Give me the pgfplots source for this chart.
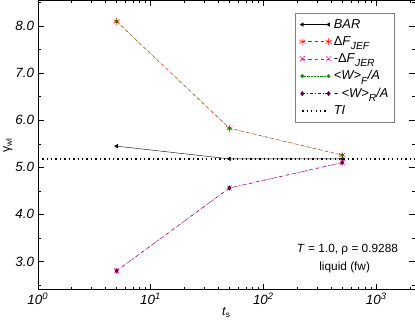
\documentclass[border=0pt]{standalone}
\usepackage{fontspec}
\setmainfont{Liberation Sans}
\usepackage{pgfplots}
\pgfplotsset{compat=1.18}
\definecolor{mygreen}{rgb}{0,0.55,0}
\definecolor{mypurple}{rgb}{0.4,0,0.3}
\newcommand{\lsub}[1]{\raisebox{-4pt}{\fontsize{10}{10}\selectfont\textit{#1}}}
\begin{document}
\begin{tikzpicture}
\begin{axis}[
  scale only axis, width=366pt, height=281pt,
  xmode=log, log basis x=10,
  xmin=1, xmax=2200, ymin=2.4, ymax=8.55,
  xtick={1,10,100,1000},
  xticklabels={\textit{10}\textsuperscript{\textit{0}},\textit{10}\textsuperscript{\textit{1}},\textit{10}\textsuperscript{\textit{2}},\textit{10}\textsuperscript{\textit{3}}},
  minor xtick={2,3,4,5,6,7,8,9,20,30,40,50,60,70,80,90,200,300,400,500,600,700,800,900,2000},
  ytick={3,4,5,6,7,8},
  yticklabels={\textit{3.0},\textit{4.0},\textit{5.0},\textit{6.0},\textit{7.0},\textit{8.0}},
  minor ytick={2.5,3.5,4.5,5.5,6.5,7.5,8.5},
  tick align=inside,
  major tick length=6pt, minor tick length=3pt,
  tick style={black, thin},
  axis line style={black, thin},
  ticklabel style={font=\fontsize{13}{13}\selectfont},
  xlabel={\textit{t}\textsubscript{s}},
  ylabel={γ\textsubscript{wl}},
  label style={font=\fontsize{12}{12}\selectfont},
  xlabel style={yshift=4pt},
  ylabel style={yshift=-4pt},
  legend image code/.code={\draw[mark repeat=2,mark phase=1,#1] plot coordinates {(0cm,0cm) (0.45cm,0cm) (0.9cm,0cm)};},
  legend style={at={(rel axis cs:0.948,0.957)}, anchor=north east,
    draw=gray, line width=1pt, font=\fontsize{12.5}{14}\selectfont,
    cells={anchor=west}, row sep=2.5pt, inner xsep=4pt, inner ysep=4pt},
  legend cell align=left,
]
\addplot[black, thin, mark=triangle*, mark size=2pt, mark options={rotate=90, solid}]
  coordinates {(500,5.18) (50,5.18) (5,5.45)};
\addlegendentry{\textit{BAR}}
\addplot[red, thin, dashed, mark=asterisk, mark size=3.5pt, mark options={solid}]
  coordinates {(5,8.1) (50,5.83) (500,5.26)};
\addlegendentry{Δ\textit{F}\lsub{JEF}}
\addplot[magenta, thin, dashed, mark=x, mark size=3.5pt, mark options={solid}]
  coordinates {(5,2.8) (50,4.56) (500,5.1)};
\addlegendentry{-Δ\textit{F}\lsub{JER}}
\addplot[mygreen, thin, densely dotted, mark=*, mark size=1.6pt, mark options={solid}]
  coordinates {(5,8.1) (50,5.83) (500,5.26)};
\addlegendentry{\textit{<W>}\lsub{F}\textit{/A}}
\addplot[mypurple, thin, dashdotted, mark=diamond*, mark size=2.2pt, mark options={solid}]
  coordinates {(5,2.8) (50,4.56) (500,5.1)};
\addlegendentry{\textit{- <W>}\lsub{R}\textit{/A}}
\addplot[black, line width=1.3pt, dash pattern=on 1.3pt off 3pt]
  coordinates {(1,5.18) (2200,5.18)};
\addlegendentry{\textit{TI}}
\node[anchor=east, font=\fontsize{11.5}{12}\selectfont] at (rel axis cs:0.965,0.139) {\textit{T} = 1.0, ρ = 0.9288};
\node[anchor=center, font=\fontsize{11.5}{12}\selectfont] at (rel axis cs:0.814,0.078) {liquid (fw)};
\end{axis}
\end{tikzpicture}
\end{document}
